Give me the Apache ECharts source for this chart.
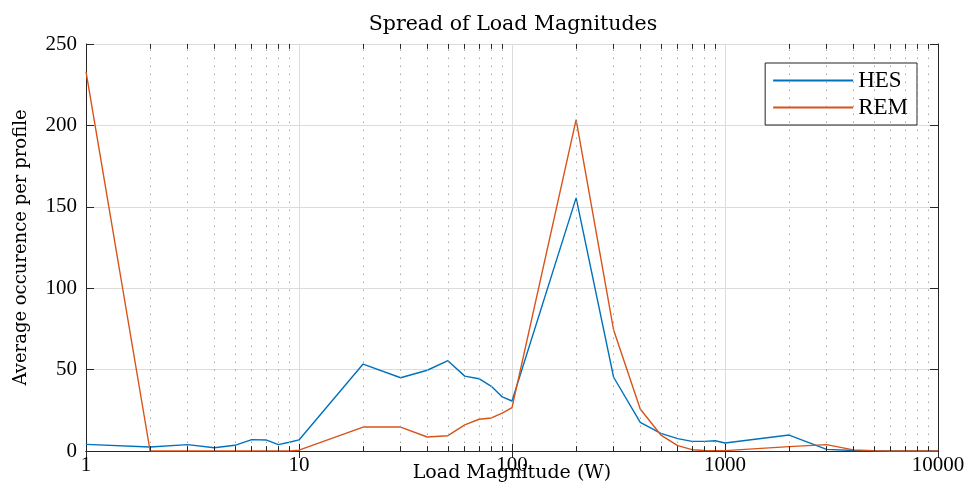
<!DOCTYPE html>
<html>
<head>
<meta charset="utf-8">
<script src="https://cdn.jsdelivr.net/npm/echarts@6/dist/echarts.min.js"></script>
<style>
  html, body { margin: 0; padding: 0; background: #fff; }
  #chart { width: 969px; height: 489px; }
</style>
</head>
<body>
<div id="chart"></div>
<script>
// Load magnitudes (W), sampled 1..9 per decade
const loadW = [1, 2, 3, 4, 5, 6, 7, 8, 9,
  10, 20, 30, 40, 50, 60, 70, 80, 90,
  100, 200, 300, 400, 500, 600, 700, 800, 900,
  1000, 2000, 3000, 4000, 5000, 6000, 7000, 8000, 9000, 10000];

// Average occurrences per profile
const hes = [4.1, 2.5, 3.9, 2.0, 3.5, 7.0, 6.8, 3.9, 5.4,
  6.8, 53.4, 45.0, 49.6, 55.5, 46.0, 44.4, 39.7, 33.2,
  30.7, 155.5, 45.3, 17.6, 10.8, 7.6, 5.9, 5.9, 6.3,
  4.9, 9.8, 1.0, 0.3, 0.1, 0, 0, 0, 0, 0];
const rem = [233.0, 0, 0, 0, 0, 0, 0, 0, 0,
  0.5, 14.7, 14.7, 8.6, 9.4, 16.0, 19.5, 20.3, 23.2,
  26.6, 203.5, 74.3, 25.8, 9.8, 3.3, 0.8, 0.3, 0.2,
  0.2, 2.7, 3.9, 0.7, 0.2, 0, 0, 0, 0, 0];

const xTickLabels = ['1', '10', '100', '1000', '10000'];
const yTicks = [0, 50, 100, 150, 200, 250];

// minor positions 2..9 in every decade
const minorX = [];
for (let d = 1; d < 10000; d *= 10) {
  for (let k = 2; k <= 9; k++) minorX.push(k * d);
}

const FONT = 'Liberation Serif';
const WIDE = 'DejaVu Serif';
const YMAX = 250;
const minorLen = 3.0;   // tick length in y units

const minorGrid = minorX.map(v => [{ coord: [v, 0] }, { coord: [v, YMAX] }]);
const minorTicks = [];
minorX.forEach(v => {
  minorTicks.push([{ coord: [v, 0] }, { coord: [v, minorLen] }]);
  minorTicks.push([{ coord: [v, YMAX] }, { coord: [v, YMAX - minorLen] }]);
});

const chart = echarts.init(document.getElementById('chart'));
chart.setOption({
  animation: false,
  backgroundColor: '#fff',
  title: {
    text: 'Spread of Load Magnitudes',
    left: 508, top: 9, textAlign: 'center',
    textStyle: { fontFamily: WIDE, fontSize: 20.5, fontWeight: 'normal', color: '#000' }
  },
  legend: {
    right: 52, top: 63,
    orient: 'vertical',
    icon: 'rect',
    itemWidth: 80, itemHeight: 2,
    itemGap: 4,
    padding: [6, 9, 6, 8],
    backgroundColor: '#fff',
    borderColor: '#222', borderWidth: 1,
    textStyle: { fontFamily: FONT, fontSize: 23, color: '#000' },
    data: ['HES', 'REM']
  },
  grid: { left: 86, right: 31, top: 44, bottom: 38, containLabel: false, outerBoundsMode: 'none' },
  xAxis: [{
    type: 'log', logBase: 10, min: 1, max: 10000,
    name: 'Load Magnitude (W)', nameLocation: 'middle', nameGap: 13,
    nameMoveOverlap: false,
    nameTextStyle: { fontFamily: WIDE, fontSize: 19, color: '#000' },
    axisLine: { lineStyle: { color: '#262626', width: 1 } },
    axisTick: { inside: true, length: 7, lineStyle: { color: '#262626' } },
    axisLabel: {
      fontFamily: FONT, fontSize: 21, color: '#000', margin: 4,
      formatter: v => xTickLabels.find(t => Number(t) === Math.round(v)) || ''
    },
    splitLine: { show: true, lineStyle: { color: '#dcdcdc', width: 1 } }
  }, {
    type: 'log', logBase: 10, min: 1, max: 10000, position: 'top',
    axisLine: { lineStyle: { color: '#262626', width: 1 } },
    axisTick: { inside: true, length: 7, lineStyle: { color: '#262626' } },
    axisLabel: { show: false }, splitLine: { show: false }
  }],
  yAxis: [{
    type: 'value', min: 0, max: YMAX, interval: 50,
    name: 'Average occurence per profile', nameLocation: 'middle', nameGap: 56,
    nameMoveOverlap: false,
    nameTextStyle: { fontFamily: WIDE, fontSize: 18, color: '#000' },
    axisLine: { show: true, lineStyle: { color: '#262626', width: 1 } },
    axisTick: { show: true, inside: true, length: 8, lineStyle: { color: '#262626' } },
    axisLabel: { fontFamily: FONT, fontSize: 21, color: '#000', margin: 9,
      formatter: v => yTicks.includes(v) ? String(v) : '' },
    splitLine: { show: true, lineStyle: { color: '#dcdcdc', width: 1 } }
  }, {
    type: 'value', min: 0, max: YMAX, interval: 50, position: 'right',
    axisLine: { show: true, lineStyle: { color: '#262626', width: 1 } },
    axisTick: { show: true, inside: true, length: 8, lineStyle: { color: '#262626' } },
    axisLabel: { show: false }, splitLine: { show: false }
  }],
  series: [{
    // dotted minor grid
    type: 'line', data: [], silent: true,
    markLine: {
      silent: true, symbol: 'none', label: { show: false },
      lineStyle: { color: '#a8a8a8', width: 1, type: [1.5, 6.5] },
      data: minorGrid
    }
  }, {
    // minor ticks on bottom and top edges
    type: 'line', data: [], silent: true,
    markLine: {
      silent: true, symbol: 'none', label: { show: false },
      lineStyle: { color: '#262626', width: 1, type: 'solid' },
      data: minorTicks
    }
  }, {
    name: 'HES', type: 'line',
    data: loadW.map((x, i) => [x, hes[i]]),
    showSymbol: false, symbol: 'none',
    lineStyle: { color: '#0072BD', width: 1.4 },
    itemStyle: { color: '#0072BD' }
  }, {
    name: 'REM', type: 'line',
    data: loadW.map((x, i) => [x, rem[i]]),
    showSymbol: false, symbol: 'none',
    lineStyle: { color: '#D95319', width: 1.4 },
    itemStyle: { color: '#D95319' }
  }]
});
</script>
</body>
</html>
